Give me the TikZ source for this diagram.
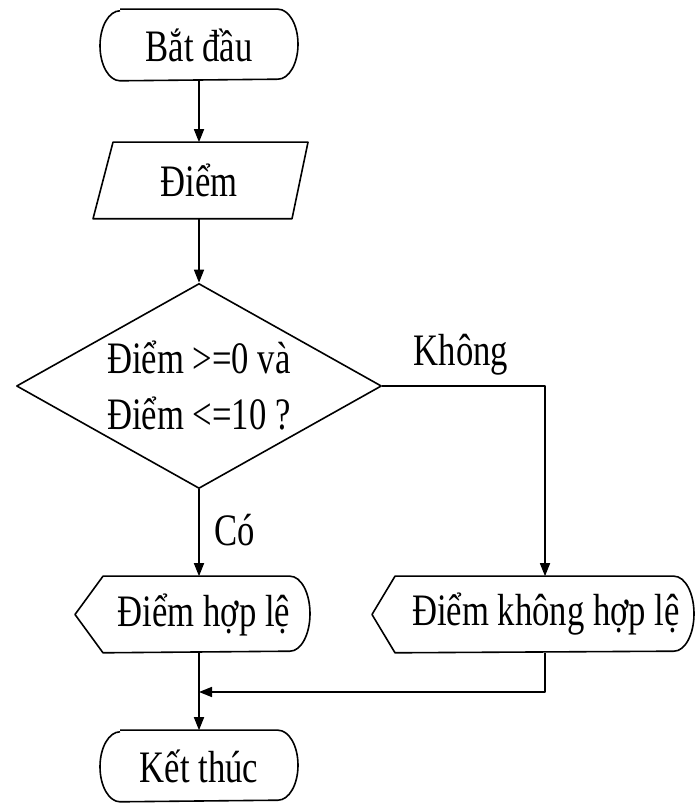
\documentclass[tikz,border=0pt]{standalone}
\usepackage{fontspec}
\setmainfont{Liberation Serif}[FakeStretch=0.77]
\usetikzlibrary{shapes.geometric,arrows.meta}
\tikzset{
  txt/.style={inner sep=0pt,minimum height=#1},
  dec/.style={diamond,draw,inner sep=0pt,aspect=1.78,minimum width=365,minimum height=205,align=left},
}
\begin{document}
\begin{tikzpicture}[x=1pt,y=1pt,line width=1.6pt,line join=round,font=\fontsize{45}{56}\selectfont,>={Triangle[length=13pt,width=10pt]}]
	\useasboundingbox (0,0) rectangle (697,803);
	% nodes
	\node[txt=70] (start) at (199,758) {Bắt đầu};
	\node[txt=75] (io) at (199,622.5) {Điểm};
	\node[dec] (cond) at (199,417) {Điểm >=0 và\\Điểm <=10 ?};
	\node[txt=75] (ok) at (204,188.5) {Điểm hợp lệ};
	\node[txt=75] (bad) at (546,188.5) {Điểm không hợp lệ};
	\node[txt=70] (stop) at (199,37) {Kết thúc};
	\node (no) at (461,448) {Không};
	\node (yes) at (235,273) {Có};
	\coordinate (join) at (199,111);
	% outlines
	\draw ([xshift=-79]start.north) -- ([xshift=79]start.north) arc[start angle=90,end angle=-90,x radius=20,y radius=35] -- ([xshift=-79]start.south) arc[start angle=270,end angle=90,x radius=20,y radius=35];
	\draw ([xshift=-106]io.south) -- ([xshift=-86]io.north) -- ([xshift=109]io.north) -- ([xshift=93]io.south) -- cycle;
	\draw ([xshift=-129]ok.center) -- ([xshift=-101]ok.north) -- ([xshift=86]ok.north) arc[start angle=90,end angle=-90,x radius=20,y radius=37.5] -- ([xshift=-101]ok.south) -- cycle;
	\draw ([xshift=-174]bad.center) -- ([xshift=-151]bad.north) -- ([xshift=128]bad.north) arc[start angle=90,end angle=-90,x radius=20,y radius=37.5] -- ([xshift=-151]bad.south) -- cycle;
	\draw ([xshift=-79]stop.north) -- ([xshift=79]stop.north) arc[start angle=90,end angle=-90,x radius=20,y radius=35] -- ([xshift=-79]stop.south) arc[start angle=270,end angle=90,x radius=20,y radius=35];
	% connectors
	\draw[->] (start.south) -- (io.north);
	\draw[->] (io.south) -- (cond.north);
	\draw[->] (cond.south) -- (cond.south |- ok.north);
	\draw[->] (cond.east) -| ([xshift=-1]bad.north);
	\draw[->] (stop.north |- ok.south) -- (stop.north);
	\draw[->] ([xshift=-1]bad.south) |- (join);
\end{tikzpicture}
\end{document}
